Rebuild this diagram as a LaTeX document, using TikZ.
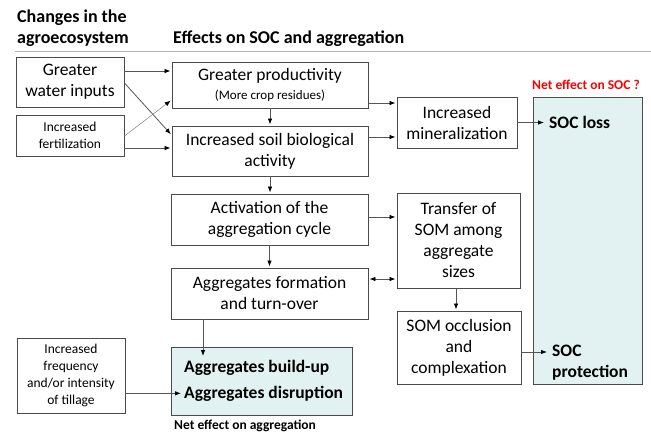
\documentclass[tikz,border=0pt]{standalone}
\usepackage{fontspec}
\setmainfont{Carlito}
\usetikzlibrary{arrows.meta,calc}
\definecolor{boxline}{HTML}{4A4A4A}
\definecolor{aqua}{HTML}{E2F1F2}
\definecolor{netred}{HTML}{FF0000}
\definecolor{arrline}{HTML}{555555}
\begin{document}
\begin{tikzpicture}[x=1pt,y=-1pt,
  box/.style={draw=boxline, line width=0.9pt, fill=white, align=center, inner sep=0pt,
    font=\fontsize{17.5}{21}\selectfont},
  sbox/.style={box, font=\fontsize{13.5}{17}\selectfont},
  bluebox/.style={box, fill=aqua},
  hdr/.style={anchor=base west, inner sep=0pt, font=\bfseries\fontsize{18}{21}\selectfont},
  btxt/.style={anchor=base west, inner ysep=0pt, font=\bfseries\fontsize{17.5}{21}\selectfont},
  tip/.tip={Latex[length=6pt,width=4.5pt,color=black]},
  arr/.style={draw=arrline, line width=0.8pt, -tip, shorten >=1pt},
  arrthin/.style={draw=gray, line width=0.5pt, -tip, shorten >=1pt},
  arrboth/.style={draw=arrline, line width=0.8pt, tip-tip, shorten >=1pt, shorten <=1pt},
]
\useasboundingbox (0,0) rectangle (651,440);
% headers
\node[hdr] (h1) at (17,22) {Changes in the};
\node[hdr] (h2) at (17,43) {agroecosystem};
\node[hdr] (h3) at (173,43) {Effects on SOC and aggregation};
\coordinate (r1) at (15,51);
\coordinate (r2) at (651,51);
\draw[black!30, line width=1pt] (r1) -- (r2);

% left boxes
\node[box, minimum width=108pt, minimum height=50pt] (water) at (70,82) {Greater\\water inputs};
\node[sbox, minimum width=108pt, minimum height=41pt] (fert) at (70,135.5) {Increased\\fertilization};
\node[sbox, minimum width=108pt, minimum height=75pt] (till) at (71,375.5) {Increased\\frequency\\and/or intensity\\of tillage};

% middle column
\node[box, minimum width=196pt, minimum height=46pt] (prod) at (270,85)
  {Greater productivity\\[-2pt]{\fontsize{13}{15}\selectfont (More crop residues)}};
\node[box, minimum width=196pt, minimum height=50pt] (bio) at (270,151) {Increased soil biological\\activity};
\node[box, minimum width=197pt, minimum height=51pt] (act) at (269.5,219.5) {Activation of the\\aggregation cycle};
\node[box, minimum width=197pt, minimum height=51pt] (form) at (269.5,293.5) {Aggregates formation\\and turn-over};
\node[bluebox, minimum width=181pt, minimum height=68pt] (agg) at (261.5,381) {};
\node[btxt, inner xsep=2pt] (bu) at (182,372) {Aggregates build-up};
\node[btxt, inner xsep=2pt] (dis) at (182,398) {Aggregates disruption};
\node[anchor=base west, inner sep=0pt, font=\bfseries\fontsize{13.5}{16}\selectfont] (neta) at (174,429) {Net effect on aggregation};

% right middle column
\node[box, minimum width=120pt, minimum height=51pt] (min) at (457,122.5) {Increased\\mineralization};
\node[box, minimum width=123pt, minimum height=95pt] (trans) at (458.5,240.5) {Transfer of\\SOM among\\aggregate\\sizes};
\node[box, minimum width=124pt, minimum height=73pt] (occ) at (459,347.5) {SOM occlusion\\and\\complexation};

% SOC box
\node[bluebox, minimum width=109pt, minimum height=287pt] (soc) at (587.5,240.5) {};
\node[anchor=base west, inner sep=0pt, text=netred, font=\bfseries\fontsize{13.5}{16}\selectfont] (nets) at (532,89) {Net effect on SOC ?};
\node[btxt, inner xsep=4pt] (socloss) at (545,128) {SOC loss};
\node[btxt, inner xsep=4pt] (soc1) at (548,356) {SOC};
\node[btxt, inner xsep=4pt] (soc2) at (548,377) {protection};

% connectors
\draw[arr] ([yshift=11pt]water.east) -- ([yshift=11pt]water.east -| prod.west);
\draw[arr] ([yshift=-1pt]water.east) -- ([yshift=16pt]bio.west);
\draw[arrthin] ([yshift=-0.5pt]fert.east) -- ([yshift=-15pt]prod.west);
\draw[arr] ([yshift=-12.5pt]fert.east) -- ([yshift=-12.5pt]fert.east -| bio.west);
\draw[arr] (prod.south) -- (prod.south |- bio.north);
\draw[arr] (bio.south) -- (bio.south |- act.north);
\draw[arr] (act.south) -- (act.south |- form.north);
\draw[arr] ([yshift=-18pt]prod.east) -- ([yshift=-18pt]prod.east -| min.west);
\draw[arr] ([yshift=14pt]bio.east) -- ([yshift=14pt]bio.east -| min.west);
\draw[arr] ([yshift=2.5pt]act.east) -- ([yshift=2.5pt]act.east -| trans.west);
\draw[arrboth] ([yshift=14.5pt]form.east) -- ([yshift=14.5pt]form.east -| trans.west);
\draw[arr] ([xshift=-2.5pt]trans.south) -- ([xshift=-2.5pt]trans.south |- occ.north);
\coordinate (c1) at (203,357);
\draw[arr] (form.south -| c1) -- (c1);
\draw[arr] (till.east |- dis.west) -- (dis.west);
\draw[arr] (min.east) -- (min.east -| socloss.west);
\draw[arr] ([yshift=-4.5pt]occ.east) -- ([yshift=-4.5pt]occ.east -| soc1.west);
\end{tikzpicture}
\end{document}
